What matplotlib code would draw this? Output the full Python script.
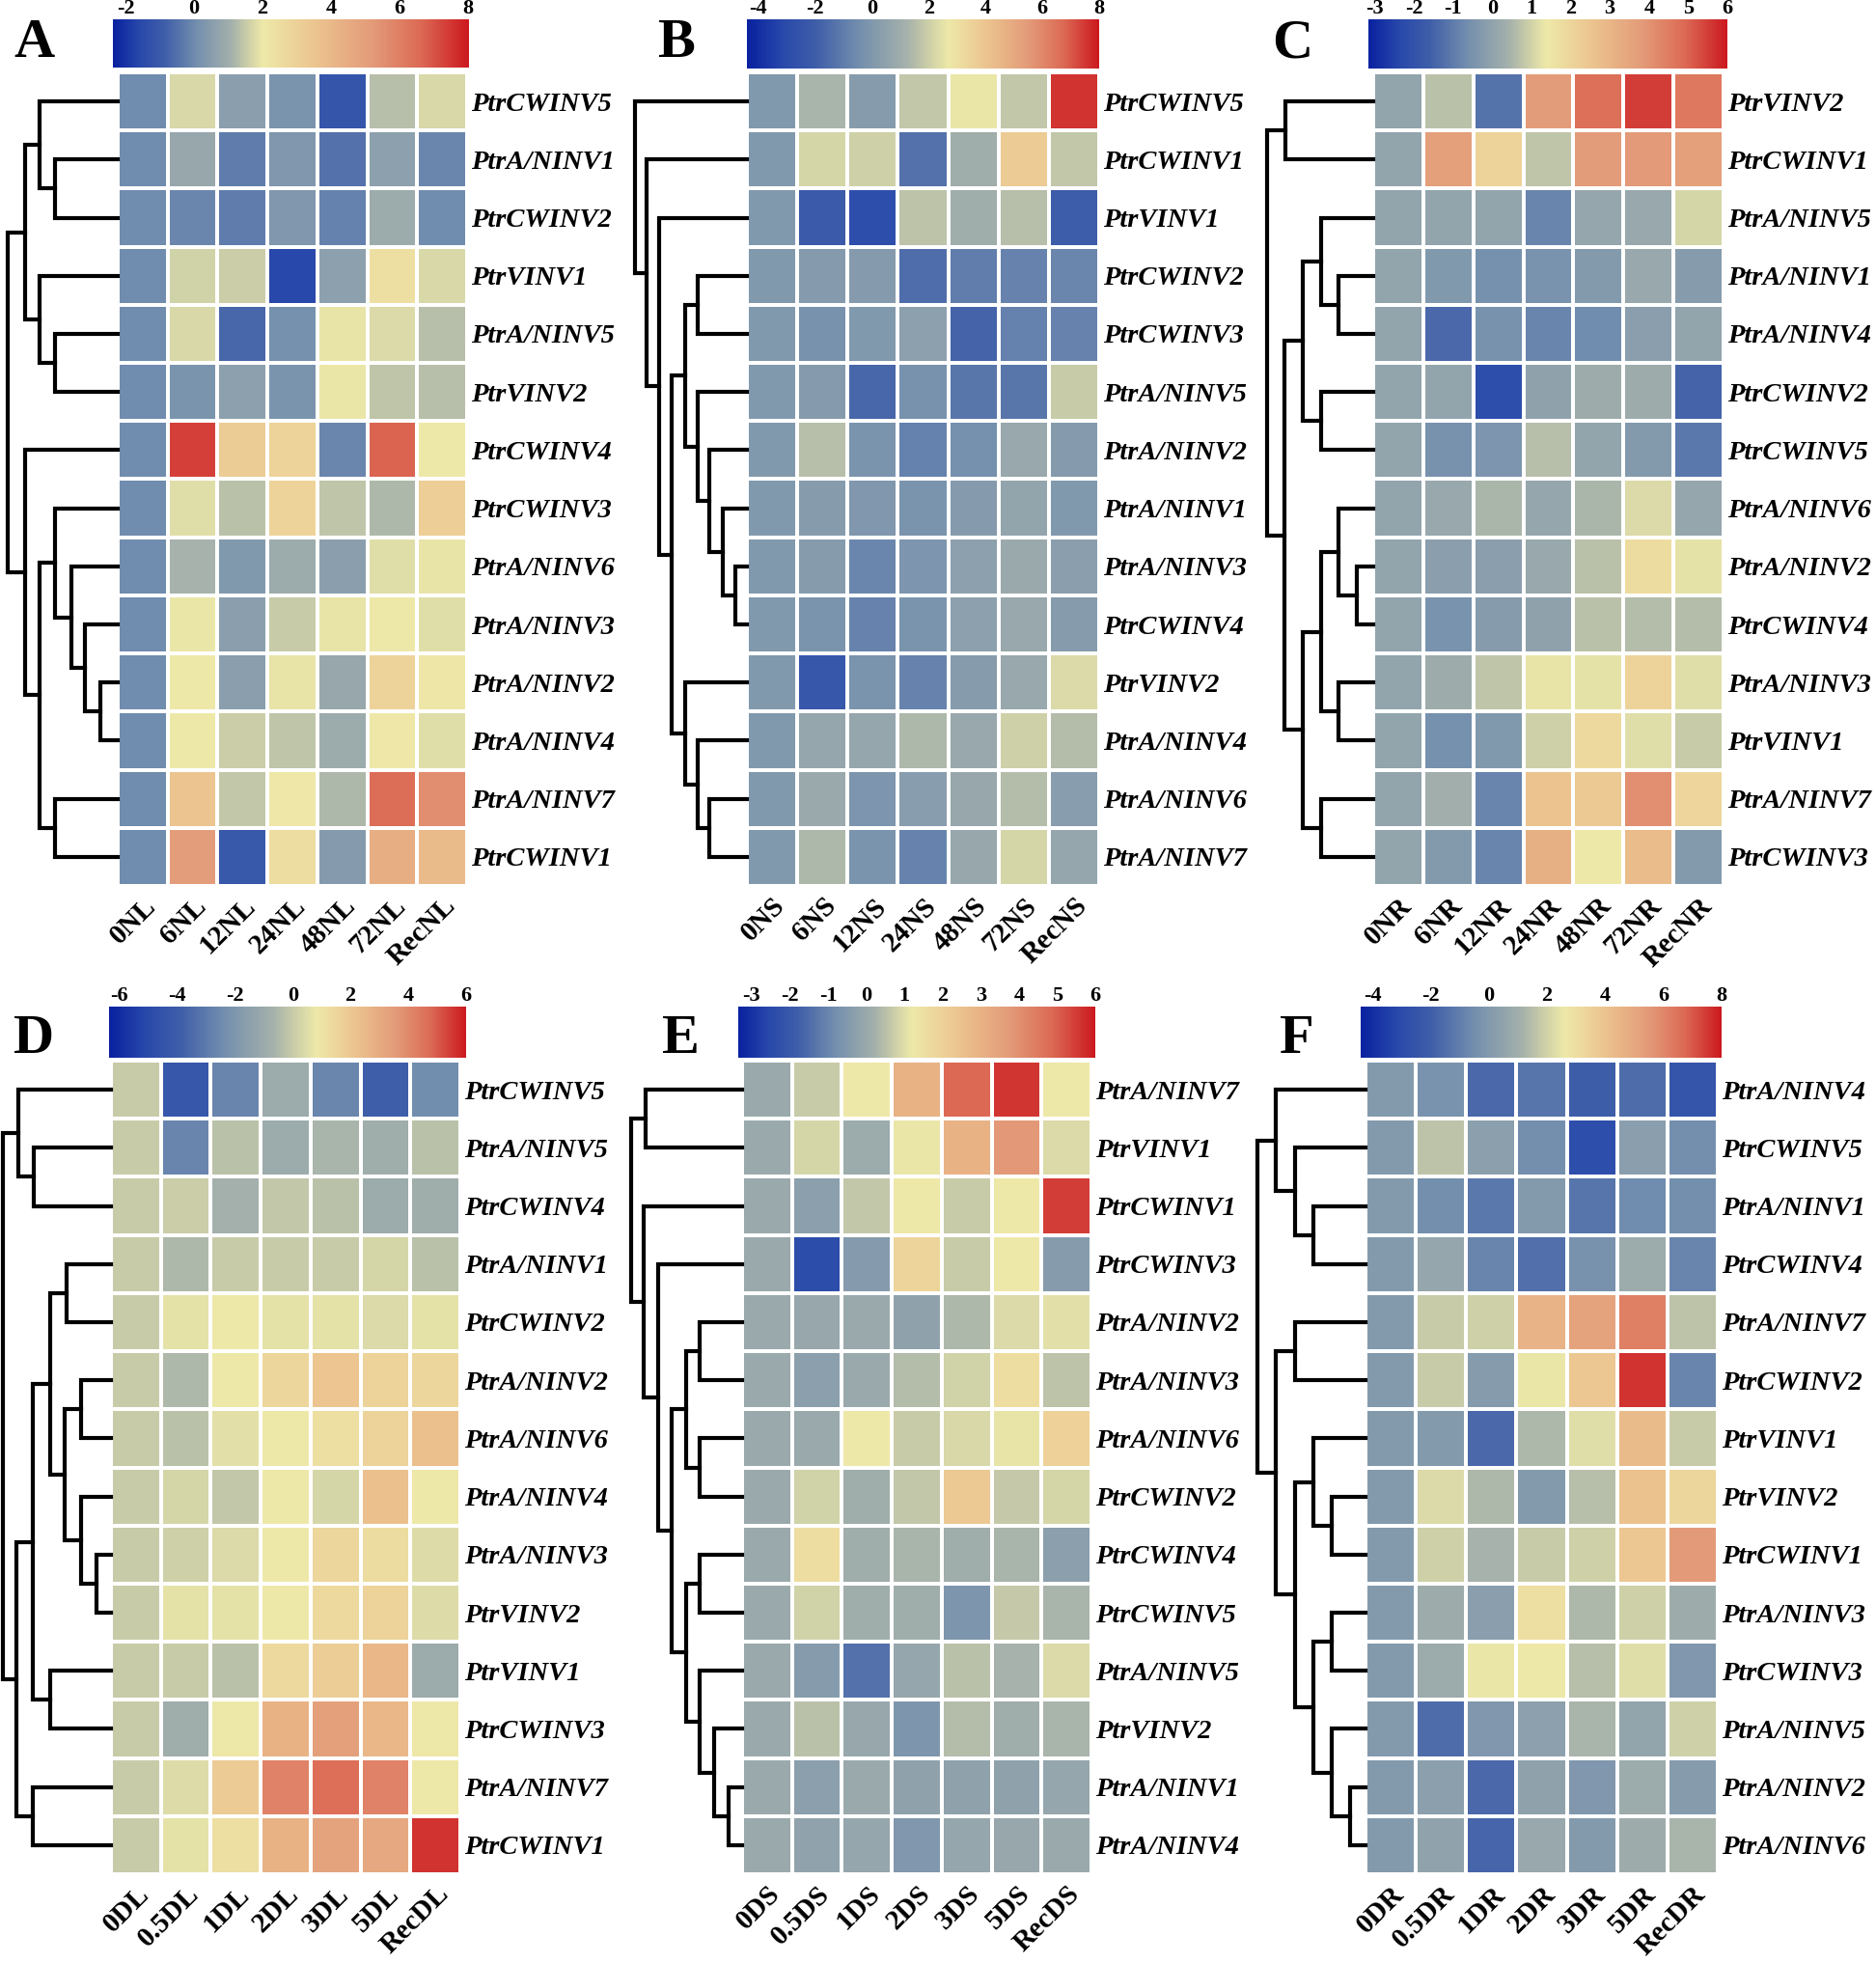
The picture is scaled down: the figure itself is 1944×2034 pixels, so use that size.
import numpy as np
import matplotlib
matplotlib.use('Agg')
import matplotlib.pyplot as plt
from matplotlib.colors import LinearSegmentedColormap, TwoSlopeNorm

plt.rcParams['font.family'] = ['Liberation Serif', 'DejaVu Serif']

W, H = 1944, 2034

# ---------------- data ----------------
rows_A = ['PtrCWINV5', 'PtrA/NINV1', 'PtrCWINV2', 'PtrVINV1', 'PtrA/NINV5', 'PtrVINV2', 'PtrCWINV4',
          'PtrCWINV3', 'PtrA/NINV6', 'PtrA/NINV3', 'PtrA/NINV2', 'PtrA/NINV4', 'PtrA/NINV7', 'PtrCWINV1']
cols_A = ['0NL', '6NL', '12NL', '24NL', '48NL', '72NL', 'RecNL']
vals_A = [[0, 1.7, 0.5, 0.2, -1.2, 1.3, 1.7],
          [0, 0.8, -0.3, 0.3, -0.5, 0.6, -0.1],
          [0, -0.1, -0.3, 0.3, -0.2, 0.9, 0.0],
          [0, 1.6, 1.55, -1.6, 0.6, 2.4, 1.7],
          [0, 1.7, -0.7, 0.1, 1.9, 1.75, 1.3],
          [0, 0.2, 0.6, 0.2, 1.95, 1.4, 1.3],
          [0, 7.3, 3.2, 2.9, -0.1, 6.7, 2.0],
          [0, 1.8, 1.35, 2.9, 1.4, 1.2, 3.1],
          [0, 1.1, 0.35, 0.9, 0.5, 1.8, 1.9],
          [0, 1.95, 0.5, 1.5, 1.9, 2.0, 1.8],
          [0, 2.0, 0.5, 1.9, 0.8, 2.9, 2.1],
          [0, 2.0, 1.55, 1.4, 0.9, 2.05, 1.8],
          [0, 3.5, 1.45, 2.05, 1.2, 6.5, 5.6],
          [0, 5.1, -1.1, 2.5, 0.4, 4.4, 3.9]]
tree_A = [1.0,
          [0.846, [0.713, 0, [0.57, 1, 2]], [0.713, 3, [0.57, 4, 5]]],
          [0.846, 6, [0.713, [0.57, 7, [0.423, 8, [0.294, 9, [0.154, 10, 11]]]], [0.57, 12, 13]]]]

rows_B = ['PtrCWINV5', 'PtrCWINV1', 'PtrVINV1', 'PtrCWINV2', 'PtrCWINV3', 'PtrA/NINV5', 'PtrA/NINV2',
          'PtrA/NINV1', 'PtrA/NINV3', 'PtrCWINV4', 'PtrVINV2', 'PtrA/NINV4', 'PtrA/NINV6', 'PtrA/NINV7']
cols_B = ['0NS', '6NS', '12NS', '24NS', '48NS', '72NS', 'RecNS']
vals_B = [[0, 1.3, 0.2, 1.8, 2.6, 1.8, 7.6],
          [0, 2.2, 2.0, -1.4, 1.0, 3.8, 1.8],
          [0, -2.2, -2.9, 1.7, 1.0, 1.55, -2.1],
          [0, 0.1, 0.1, -1.5, -1.0, -0.8, -0.7],
          [0, -0.3, 0.0, 0.4, -1.8, -0.9, -0.8],
          [0, 0.1, -1.7, -0.3, -1.2, -1.2, 1.9],
          [0, 1.55, -0.2, -0.9, -0.4, 0.8, 0.1],
          [0, 0.15, -0.05, -0.2, 0.1, 0.6, 0.0],
          [0, 0.2, -0.7, -0.15, 0.4, 0.85, 0.3],
          [0, -0.2, -0.8, -0.2, 0.4, 0.8, 0.2],
          [0, -2.4, -0.2, -0.8, 0.15, 0.8, 2.3],
          [0, 0.7, 0.7, 1.4, 0.8, 2.0, 1.5],
          [0, 0.85, -0.15, 0.25, 0.75, 1.5, 0.25],
          [0, 1.4, -0.2, -0.8, 0.75, 2.2, 0.7]]
tree_B = [1.0, 0, [0.897, 1, [0.785, 2, [0.676,
          [0.55, [0.441, 3, 4], [0.441, 5, [0.332, 6, [0.215, 7, [0.103, 8, 9]]]]],
          [0.55, 10, [0.441, 11, [0.332, 12, 13]]]]]]]

rows_C = ['PtrVINV2', 'PtrCWINV1', 'PtrA/NINV5', 'PtrA/NINV1', 'PtrA/NINV4', 'PtrCWINV2', 'PtrCWINV5',
          'PtrA/NINV6', 'PtrA/NINV2', 'PtrCWINV4', 'PtrA/NINV3', 'PtrVINV1', 'PtrA/NINV7', 'PtrCWINV3']
cols_C = ['0NR', '6NR', '12NR', '24NR', '48NR', '72NR', 'RecNR']
vals_C = [[0, 0.7, -1.2, 3.8, 4.8, 5.5, 4.6],
          [0, 3.7, 2.1, 0.75, 3.8, 3.85, 3.7],
          [0, 0.0, 0.0, -0.85, 0.1, 0.15, 1.05],
          [0, -0.35, -0.6, -0.5, -0.3, 0.15, -0.25],
          [0, -1.4, -0.55, -0.85, -0.7, -0.15, 0.0],
          [0, 0.05, -2.2, -0.05, 0.25, 0.25, -1.5],
          [0, -0.55, -0.45, 0.65, 0.0, -0.3, -1.1],
          [0, 0.15, 0.5, 0.1, 0.5, 1.1, 0.1],
          [0, -0.15, -0.15, 0.15, 0.7, 1.8, 1.25],
          [0, -0.5, -0.25, -0.05, 0.7, 0.6, 0.6],
          [0, 0.25, 0.75, 1.3, 1.25, 2.1, 1.2],
          [0, -0.6, -0.35, 0.95, 1.9, 1.2, 0.85],
          [0, 0.35, -0.85, 2.6, 2.4, 4.1, 2.0],
          [0, -0.3, -0.85, 3.2, 1.4, 2.8, -0.3]]
tree_C = [1.0, [0.827, 0, 1], [0.836,
          [0.666, [0.495, 2, [0.325, 3, 4]], [0.495, 5, 6]],
          [0.666, [0.495, [0.325, 7, [0.155, 8, 9]], [0.325, 10, 11]], [0.495, 12, 13]]]]

rows_D = ['PtrCWINV5', 'PtrA/NINV5', 'PtrCWINV4', 'PtrA/NINV1', 'PtrCWINV2', 'PtrA/NINV2', 'PtrA/NINV6',
          'PtrA/NINV4', 'PtrA/NINV3', 'PtrVINV2', 'PtrVINV1', 'PtrCWINV3', 'PtrA/NINV7', 'PtrCWINV1']
cols_D = ['0DL', '0.5DL', '1DL', '2DL', '3DL', '5DL', 'RecDL']
vals_D = [[0, -4.3, -2.7, -1.0, -2.6, -3.9, -2.4],
          [0, -2.7, -0.3, -1.0, -0.6, -0.9, -0.3],
          [0, 0.05, -0.7, -0.1, -0.3, -1.0, -0.9],
          [0, -0.5, 0.0, 0.0, 0.0, 0.3, -0.3],
          [0, 0.6, 0.8, 0.6, 0.6, 0.4, 0.6],
          [0, -0.5, 0.8, 1.5, 2.1, 1.6, 1.5],
          [0, -0.3, 0.55, 0.85, 1.2, 1.6, 2.3],
          [0, 0.3, -0.1, 0.8, 0.3, 2.3, 0.85],
          [0, 0.1, 0.4, 0.85, 1.5, 1.3, 0.45],
          [0, 0.6, 0.65, 0.82, 1.4, 1.6, 0.45],
          [0, 0.0, -0.3, 1.4, 1.8, 2.6, -1.0],
          [0, -0.9, 0.8, 2.8, 3.4, 2.6, 0.85],
          [0, 0.45, 1.9, 4.2, 4.7, 4.2, 0.85],
          [0, 0.6, 1.2, 2.8, 3.3, 3.1, 5.6]]
tree_D = [1.0, [0.856, 0, [0.713, 1, 2]], [0.872,
          [0.719, [0.566, [0.413, 3, 4], [0.428, [0.275, 5, 6], [0.275, 7, [0.131, 8, 9]]]], [0.566, 10, 11]],
          [0.719, 12, 13]]]

rows_E = ['PtrA/NINV7', 'PtrVINV1', 'PtrCWINV1', 'PtrCWINV3', 'PtrA/NINV2', 'PtrA/NINV3', 'PtrA/NINV6',
          'PtrCWINV2', 'PtrCWINV4', 'PtrCWINV5', 'PtrA/NINV5', 'PtrVINV2', 'PtrA/NINV1', 'PtrA/NINV4']
cols_E = ['0DS', '0.5DS', '1DS', '2DS', '3DS', '5DS', 'RecDS']
vals_E = [[0, 0.7, 1.2, 3.0, 4.9, 5.6, 1.2],
          [0, 0.85, 0.05, 1.15, 3.0, 3.8, 0.95],
          [0, -0.3, 0.6, 1.2, 0.7, 1.2, 5.5],
          [0, -2.4, -0.45, 1.9, 0.7, 1.2, -0.4],
          [0, -0.05, 0.0, -0.25, 0.35, 0.95, 1.05],
          [0, -0.3, 0.0, 0.45, 0.8, 1.6, 0.55],
          [0, 0.0, 1.2, 0.7, 0.9, 1.1, 2.0],
          [0, 0.8, 0.1, 0.6, 2.3, 0.65, 0.85],
          [0, 1.6, 0.1, 0.3, 0.1, 0.3, -0.3],
          [0, 0.8, 0.1, 0.1, -0.6, 0.65, 0.3],
          [0, -0.4, -1.4, -0.1, 0.5, 0.25, 0.95],
          [0, 0.5, -0.05, -0.6, 0.45, 0.1, 0.3],
          [0, -0.3, 0.0, -0.25, -0.25, -0.25, -0.1],
          [0, -0.2, -0.1, -0.55, -0.1, -0.05, 0.0]]
tree_E = [1.0, [0.873, 0, 1], [0.888, 2, [0.754, 3, [0.636,
          [0.503, [0.379, 4, 5], [0.379, 6, 7]],
          [0.503, [0.379, 8, 9], [0.379, 10, [0.251, 11, [0.118, 12, 13]]]]]]]]

rows_F = ['PtrA/NINV4', 'PtrCWINV5', 'PtrA/NINV1', 'PtrCWINV4', 'PtrA/NINV7', 'PtrCWINV2', 'PtrVINV1',
          'PtrVINV2', 'PtrCWINV1', 'PtrA/NINV3', 'PtrCWINV3', 'PtrA/NINV5', 'PtrA/NINV2', 'PtrA/NINV6']
cols_F = ['0DR', '0.5DR', '1DR', '2DR', '3DR', '5DR', 'RecDR']
vals_F = [[0, -0.3, -1.7, -1.3, -2.1, -1.6, -2.5],
          [0, 1.6, 0.3, -0.5, -2.9, 0.2, -0.5],
          [0, -0.5, -1.2, 0.0, -1.3, -0.6, -0.5],
          [0, 0.6, -0.8, -1.5, -0.4, 0.8, -0.8],
          [0, 1.8, 1.9, 4.6, 5.2, 6.2, 1.6],
          [0, 1.8, 0.1, 2.5, 3.9, 7.6, -0.8],
          [0, 0.0, -1.7, 1.3, 2.3, 4.3, 1.8],
          [0, 2.2, 1.3, 0.0, 1.5, 4.1, 3.3],
          [0, 1.9, 1.15, 1.8, 1.9, 3.9, 5.5],
          [0, 0.9, 0.2, 3.0, 1.3, 1.9, 0.9],
          [0, 0.8, 2.5, 2.6, 1.5, 2.3, -0.1],
          [0, -1.6, -0.1, 0.35, 1.2, 0.5, 1.9],
          [0, 0.3, -1.7, 0.4, -0.1, 0.8, 0.1],
          [0, 0.45, -1.8, 0.7, 0.0, 0.9, 1.2]]
tree_F = [1.0, [0.828, 0, [0.656, 1, [0.484, 2, 3]]], [0.828,
          [0.656, 4, 5],
          [0.656, [0.484, 6, [0.3125, 7, 8]], [0.484, [0.3125, 9, 10], [0.3125, 11, [0.147, 12, 13]]]]]]

# colour scale per panel: (min, yellow centre, max) and legend ticks
scale_A = (-2.37, 2.0, 8); ticks_A = [-2, 0, 2, 4, 6, 8]
scale_B = (-4.4, 2.7, 8); ticks_B = [-4, -2, 0, 2, 4, 6, 8]
scale_C = (-3.16, 1.38, 6); ticks_C = [-3, -2, -1, 0, 1, 2, 3, 4, 5, 6]
scale_D = (-6.35, 0.82, 6); ticks_D = [-6, -4, -2, 0, 2, 4, 6]
scale_E = (-3.35, 1.2, 6); ticks_E = [-3, -2, -1, 0, 1, 2, 3, 4, 5, 6]
scale_F = (-4.4, 2.6, 8); ticks_F = [-4, -2, 0, 2, 4, 6, 8]

cmap = LinearSegmentedColormap.from_list('inv', [
    (0.0, '#0a22a0'), (0.09, '#2a4aab'), (0.17, '#3f5ea9'), (0.28, '#7590ae'), (0.395, '#a5b1ab'),
    (0.45, '#cdcfa8'), (0.5, '#eee9a8'), (0.625, '#ecc590'), (0.77, '#e39a78'),
    (0.885, '#dc6a55'), (1.0, '#cc1a20')])


def rect(x0, y0, x1, y1):
    return [x0 / W, 1 - y1 / H, (x1 - x0) / W, (y1 - y0) / H]


def draw_tree(ax, node):
    # returns (y, height) of node, draws its links
    if isinstance(node, int):
        return node + 0.5, 0.0
    h, l, r = node
    yl, hl = draw_tree(ax, l)
    yr, hr = draw_tree(ax, r)
    ax.plot([hl, h, h, hr], [yl, yl, yr, yr], color='black', lw=3.0,
            solid_joinstyle='miter', clip_on=False)
    return (yl + yr) / 2, h


def panel(fig, letter, rows, cols, vals, tree, scale, ticks, heat, cbar, root_x, letter_xy):
    vmin, vc, vmax = scale
    norm = TwoSlopeNorm(vcenter=vc, vmin=vmin, vmax=vmax)

    ax = fig.add_axes(rect(*heat))
    ax.pcolormesh(np.array(vals), cmap=cmap, norm=norm, edgecolors='white', linewidth=1.6)
    ax.set_xlim(0, len(cols))
    ax.set_ylim(len(rows), 0)
    for s in ax.spines.values():
        s.set_visible(False)
    ax.yaxis.tick_right()
    ax.set_yticks(np.arange(len(rows)) + 0.5)
    ax.set_yticklabels(rows, fontsize=20.5, fontweight='bold', fontstyle='italic')
    ax.set_xticks(np.arange(len(cols)) + 0.5)
    ax.set_xticklabels(cols, fontsize=21, fontweight='bold', rotation=45,
                       ha='right', va='top', rotation_mode='anchor')
    ax.tick_params(axis='y', length=0, pad=3)
    ax.tick_params(axis='x', length=0, pad=5)

    dax = fig.add_axes(rect(root_x, heat[1], heat[0], heat[3]))
    dax.set_xlim(1, 0)
    dax.set_ylim(len(rows), 0)
    dax.axis('off')
    draw_tree(dax, tree)

    cax = fig.add_axes(rect(*cbar))
    grad = np.linspace(vmin, vmax, 600)[None, :]
    cax.imshow(grad, cmap=cmap, norm=norm, extent=[vmin, vmax, 0, 1], aspect='auto')
    cax.set_xlim(vmin, vmax)
    cax.set_yticks([])
    cax.xaxis.tick_top()
    cax.set_xticks(ticks)
    cax.set_xticklabels([str(t) for t in ticks], fontsize=16, fontweight='bold')
    cax.tick_params(length=0, pad=1)
    for s in cax.spines.values():
        s.set_visible(False)

    fig.text(letter_xy[0] / W, 1 - letter_xy[1] / H, letter, fontsize=42,
             fontweight='bold', ha='left', va='center')


fig = plt.figure(figsize=(W / 100, H / 100), dpi=100)
fig.patch.set_facecolor('white')

panel(fig, 'A', rows_A, cols_A, vals_A, tree_A, scale_A, ticks_A,
      (122, 75, 484, 918), (117, 20, 485, 70), 8, (14, 45))
panel(fig, 'B', rows_B, cols_B, vals_B, tree_B, scale_B, ticks_B,
      (774, 75, 1139, 918), (774, 20, 1139, 71), 658, (681, 45))
panel(fig, 'C', rows_C, cols_C, vals_C, tree_C, scale_C, ticks_C,
      (1423, 75, 1786, 918), (1418, 20, 1790, 71), 1313, (1318, 45))
panel(fig, 'D', rows_D, cols_D, vals_D, tree_D, scale_D, ticks_D,
      (115, 1099, 477, 1942), (113, 1043, 483, 1096), 3, (14, 1077))
panel(fig, 'E', rows_E, cols_E, vals_E, tree_E, scale_E, ticks_E,
      (769, 1099, 1131, 1942), (765, 1043, 1135, 1096), 654, (686, 1077))
panel(fig, 'F', rows_F, cols_F, vals_F, tree_F, scale_F, ticks_F,
      (1415, 1099, 1780, 1942), (1410, 1043, 1784, 1096), 1303, (1326, 1077))

fig.savefig('out.png', dpi=100, facecolor='white')
